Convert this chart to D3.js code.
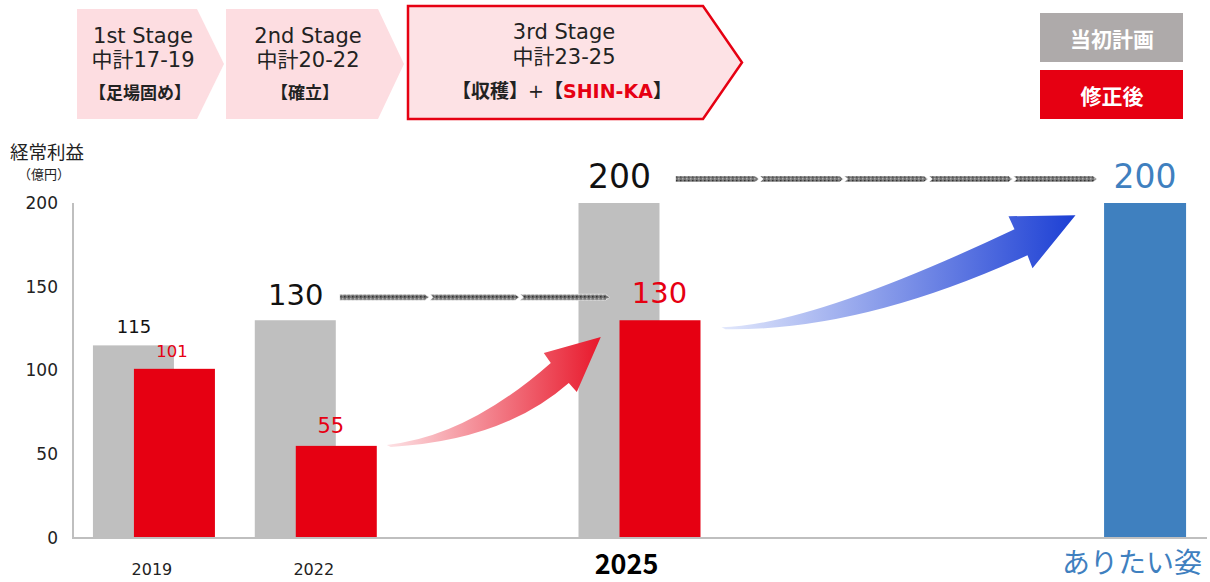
<!DOCTYPE html>
<html>
<head>
<meta charset="utf-8">
<script src="https://cdn.jsdelivr.net/npm/d3@7"></script>
<style>
  body { margin: 0; background: #fff; }
  svg { display: block; font-family: "DejaVu Sans", "Noto Sans CJK JP", sans-serif; }
  .cjk { font-family: "Noto Sans CJK JP", sans-serif; }
</style>
</head>
<body>
<svg width="1210" height="582"></svg>
<script>
// data
var slots = ["2019", "2022", "_gap1", "2025", "_gap2", "_gap3", "ありたい姿"];
var years = ["2019", "2022", "2025"];
var planValues = [115, 130, 200];      // 当初計画
var revisedValues = [101, 55, 130];    // 修正後
var goalLabel = "ありたい姿";
var goalValue = 200;
var yTicks = [0, 50, 100, 150, 200];
var stages = [
  { l1: "1st Stage", l2: "中計17-19", l3: "【足場固め】" },
  { l1: "2nd Stage", l2: "中計20-22", l3: "【確立】" },
  { l1: "3rd Stage", l2: "中計23-25", l3: "" }
];
var legendItems = ["当初計画", "修正後"];

var svg = d3.select("svg");
var RED = "#e60012", GREY = "#bfbfbf", BLUE = "#3f80bf";

var x = d3.scaleBand().domain(slots).range([73, 1206]);
var y = d3.scaleLinear().domain([0, 200]).range([538, 203]);
var bw = 81;
function mid(d) { return x(d) + x.bandwidth() / 2; }

var defs = svg.append("defs");
var pat = defs.append("pattern").attr("id", "dots")
    .attr("width", 4).attr("height", 4).attr("patternUnits", "userSpaceOnUse");
pat.append("rect").attr("width", 4).attr("height", 4).attr("fill", "#767676");
pat.append("rect").attr("width", 1.5).attr("height", 1.5).attr("fill", "#333");
pat.append("rect").attr("x", 2).attr("y", 2).attr("width", 1.5).attr("height", 1.5).attr("fill", "#b0b0b0");

var gr = defs.append("linearGradient").attr("id", "gRed")
    .attr("gradientUnits", "userSpaceOnUse").attr("x1", 386).attr("x2", 600).attr("y1", 0).attr("y2", 0);
gr.append("stop").attr("offset", 0).attr("stop-color", "#fde3e6");
gr.append("stop").attr("offset", 1).attr("stop-color", "#e8192c");
var gb = defs.append("linearGradient").attr("id", "gBlue")
    .attr("gradientUnits", "userSpaceOnUse").attr("x1", 722).attr("x2", 1076).attr("y1", 0).attr("y2", 0);
gb.append("stop").attr("offset", 0).attr("stop-color", "#e2e8fc");
gb.append("stop").attr("offset", 1).attr("stop-color", "#1c3fd4");

// stage chevrons
var stageBox = [[77, 197, 224, 9, 119], [226, 378, 404, 9, 119], [408, 703, 742, 6, 119]];
var sg = svg.append("g").selectAll("g").data(stages).enter().append("g");
sg.append("path")
  .attr("d", function(d, i) {
    var b = stageBox[i];
    return "M" + b[0] + "," + b[3] + "L" + b[1] + "," + b[3] + "L" + b[2] + "," + ((b[3] + b[4]) / 2) +
      "L" + b[1] + "," + b[4] + "L" + b[0] + "," + b[4] + "Z";
  })
  .attr("fill", function(d, i) { return i == 2 ? "#fde2e5" : "#fddde1"; })
  .attr("stroke", function(d, i) { return i == 2 ? RED : "none"; })
  .attr("stroke-width", 2.5);
function stageX(i) { var b = stageBox[i]; return i == 2 ? 564 : (b[0] + b[1]) / 2 + 6; }
sg.append("text").text(function(d) { return d.l1; })
  .attr("x", function(d, i) { return stageX(i); })
  .attr("y", function(d, i) { return i == 2 ? 39 : 43; })
  .attr("text-anchor", "middle").attr("font-size", 21).attr("fill", "#222");
sg.append("text").text(function(d) { return d.l2; })
  .attr("x", function(d, i) { return stageX(i); })
  .attr("y", function(d, i) { return i == 2 ? 64 : 67; })
  .attr("text-anchor", "middle").attr("font-size", 21).attr("fill", "#222");
sg.append("text").attr("class", "cjk").text(function(d) { return d.l3; })
  .attr("x", function(d, i) { return stageX(i) - 3; })
  .attr("y", 99)
  .attr("text-anchor", "middle").attr("font-size", 17).attr("font-weight", "bold").attr("fill", "#222");
var t3 = svg.append("text").attr("x", 562).attr("y", 98).attr("text-anchor", "middle")
  .attr("font-size", 19).attr("font-weight", "bold").attr("fill", "#222");
t3.append("tspan").text("【収穫】");
t3.append("tspan").text("+").attr("font-weight", "normal");
t3.append("tspan").text("【");
t3.append("tspan").text("SHIN-KA").attr("fill", RED);
t3.append("tspan").text("】");

// legend
var lg = svg.append("g").selectAll("g").data(legendItems).enter().append("g");
lg.append("rect").attr("x", 1040).attr("y", function(d, i) { return 13 + i * 57; })
  .attr("width", 143).attr("height", 49)
  .attr("fill", function(d, i) { return i == 0 ? "#aeaaaa" : RED; });
lg.append("text").attr("class", "cjk").text(function(d) { return d; })
  .attr("x", 1112).attr("y", function(d, i) { return 47 + i * 57; })
  .attr("text-anchor", "middle").attr("font-size", 21).attr("font-weight", "bold").attr("fill", "#fff");

// axis title
svg.append("text").attr("class", "cjk").text("経常利益").attr("x", 10).attr("y", 159).attr("font-size", 18.5).attr("fill", "#222");
svg.append("text").attr("class", "cjk").text("（億円）").attr("x", 18).attr("y", 179).attr("font-size", 13).attr("fill", "#222");

// y axis
var ya = svg.append("g").attr("transform", "translate(73,0)")
  .call(d3.axisLeft(y).tickValues(yTicks).tickSize(0).tickPadding(15));
ya.select(".domain").remove();
ya.selectAll("text").attr("font-size", 17).attr("fill", "#222")
  .attr("font-family", "\"DejaVu Sans\", sans-serif");

// bars
var bars = svg.append("g");
bars.selectAll(".plan").data(years).enter().append("rect")
  .attr("x", function(d) { return mid(d) - 61; })
  .attr("y", function(d, i) { return y(planValues[i]); })
  .attr("width", bw)
  .attr("height", function(d, i) { return y(0) - y(planValues[i]); })
  .attr("fill", GREY);
bars.selectAll(".rev").data(years).enter().append("rect")
  .attr("x", function(d) { return mid(d) - 20; })
  .attr("y", function(d, i) { return y(revisedValues[i]); })
  .attr("width", bw)
  .attr("height", function(d, i) { return y(0) - y(revisedValues[i]); })
  .attr("fill", RED);
bars.append("rect")
  .attr("x", mid(goalLabel) - 21)
  .attr("y", y(goalValue)).attr("width", bw + 1)
  .attr("height", y(0) - y(goalValue)).attr("fill", BLUE);

// axis lines
svg.append("line").attr("x1", 73).attr("x2", 73).attr("y1", y(200)).attr("y2", y(0))
  .attr("stroke", GREY).attr("stroke-width", 2);
svg.append("line").attr("x1", 72).attr("x2", 1207).attr("y1", y(0)).attr("y2", y(0))
  .attr("stroke", GREY).attr("stroke-width", 2);

// value labels
var planSize = [18, 29, 33], revSize = [16.5, 21, 29];
var planDy = [-12, -15, -15], revDy = [-12, -13, -17];
svg.append("g").selectAll("text").data(years).enter().append("text")
  .text(function(d, i) { return planValues[i]; })
  .attr("x", function(d) { return mid(d) - 20; })
  .attr("y", function(d, i) { return y(planValues[i]) + planDy[i]; })
  .attr("text-anchor", "middle").attr("fill", "#111")
  .attr("font-size", function(d, i) { return planSize[i]; });
svg.append("g").selectAll("text").data(years).enter().append("text")
  .text(function(d, i) { return revisedValues[i]; })
  .attr("x", function(d, i) { return mid(d) + 20 + (i == 0 ? -2 : (i == 2 ? 0 : -5)); })
  .attr("y", function(d, i) { return y(revisedValues[i]) + revDy[i]; })
  .attr("text-anchor", "middle").attr("fill", RED)
  .attr("font-size", function(d, i) { return revSize[i]; });
svg.append("text").text(goalValue)
  .attr("x", mid(goalLabel) + 20).attr("y", y(goalValue) - 15)
  .attr("text-anchor", "middle").attr("fill", BLUE).attr("font-size", 33);

// x labels
svg.append("g").selectAll("text").data(years.slice(0, 2)).enter().append("text")
  .text(function(d) { return d; })
  .attr("x", function(d) { return mid(d) - 2; }).attr("y", 575)
  .attr("text-anchor", "middle").attr("font-size", 16).attr("fill", "#222");
svg.append("text").attr("class", "cjk").text(years[2])
  .attr("x", mid("2025") - 13).attr("y", 574)
  .attr("text-anchor", "middle").attr("font-size", 27).attr("font-weight", "bold").attr("fill", "#000");
svg.append("text").attr("class", "cjk").text(goalLabel)
  .attr("x", mid(goalLabel) + 7).attr("y", 573)
  .attr("text-anchor", "middle").attr("font-size", 28).attr("fill", BLUE);

// dotted connector arrows
function connector(x0, x1, yy, n) {
  var seg = (x1 - x0) / n, h = 3;
  for (var k = 0; k < n; k++) {
    var a = x0 + k * seg, b = a + seg - 1;
    svg.append("path")
      .attr("d", "M" + a + "," + (yy - h) + "L" + (b - 4) + "," + (yy - h) + "L" + b + "," + yy +
        "L" + (b - 4) + "," + (yy + h) + "L" + a + "," + (yy + h) + "L" + (a + (k ? 3 : 0)) + "," + yy + "Z")
      .attr("fill", "url(#dots)").attr("stroke", "#fff").attr("stroke-width", 0.6);
  }
}
connector(mid("2022") + 24, mid("2025") - 29, y(130) - 23, 3);
connector(mid("2025") + 36, mid(goalLabel) - 27, y(200) - 24, 5);

// curved gradient arrows
var rT = [mid("2022") + 71, y(55) - 1];
svg.append("path").attr("fill", "url(#gRed)")
  .attr("d", "M" + rT[0] + "," + rT[1] +
    "Q" + (rT[0] + 80) + "," + (rT[1] - 8) + " " + (rT[0] + 164) + "," + (rT[1] - 82) +
    "L" + (rT[0] + 157) + "," + (rT[1] - 92) +
    "L" + (rT[0] + 214) + "," + (rT[1] - 108) +
    "L" + (rT[0] + 190) + "," + (rT[1] - 53) +
    "L" + (rT[0] + 182) + "," + (rT[1] - 62) +
    "Q" + (rT[0] + 116) + "," + (rT[1] - 4) + " " + (rT[0] + 4) + "," + (rT[1] + 2) + "Z");
var bT = [mid("2025") + 82, y(130) + 7];
svg.append("path").attr("fill", "url(#gBlue)")
  .attr("d", "M" + bT[0] + "," + bT[1] +
    "Q" + (bT[0] + 90) + "," + (bT[1] - 2) + " " + (bT[0] + 293) + "," + (bT[1] - 98) +
    "L" + (bT[0] + 287) + "," + (bT[1] - 111) +
    "L" + (bT[0] + 354) + "," + (bT[1] - 112) +
    "L" + (bT[0] + 311) + "," + (bT[1] - 59) +
    "L" + (bT[0] + 306) + "," + (bT[1] - 72) +
    "Q" + (bT[0] + 140) + "," + (bT[1] + 4) + " " + (bT[0] + 4) + "," + (bT[1] + 2) + "Z");
</script>
</body>
</html>
